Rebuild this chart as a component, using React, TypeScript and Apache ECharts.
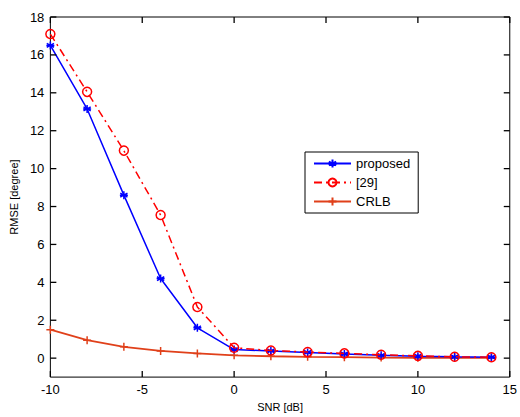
import React, { useEffect, useRef } from "react";
import * as echarts from "echarts";

const snr = [-10, -8, -6, -4, -2, 0, 2, 4, 6, 8, 10, 12, 14];
const proposed = [16.5, 13.15, 8.6, 4.2, 1.6, 0.45, 0.38, 0.3, 0.22, 0.15, 0.1, 0.07, 0.05];
const ref29 = [17.1, 14.05, 10.95, 7.55, 2.7, 0.55, 0.4, 0.32, 0.25, 0.18, 0.12, 0.07, 0.05];
const crlb = [1.5, 0.95, 0.6, 0.38, 0.25, 0.15, 0.1, 0.07, 0.05, 0.03, 0.02, 0.015, 0.01];
const xTicks = [-10, -5, 0, 5, 10, 15];
const yTicks = [0, 2, 4, 6, 8, 10, 12, 14, 16, 18];

const FONT = "Liberation Sans";
const asterisk = "path://M0,-5L0,5M-4.5,-2.5L4.5,2.5M-4.5,2.5L4.5,-2.5M-5,0L5,0";
const plus = "path://M0,-5L0,5M-5,0L5,0";
const X_MIN = -10;
const X_MAX = 15;
const Y_MIN = -1;
const Y_MAX = 18;

export default function App() {
  const ref = useRef<HTMLDivElement>(null);
  useEffect(() => {
    const chart = echarts.init(ref.current!, null, { renderer: "svg" });
    const pair = (v: number[]) => v.map((y, i) => [snr[i], y]);
    chart.setOption({
      animation: false,
      grid: { left: 44, right: 8, top: 17, bottom: 31, show: true, borderColor: "#000", borderWidth: 1, backgroundColor: "#fff" },
      xAxis: {
        type: "value",
        min: X_MIN,
        max: X_MAX,
        interval: 5,
        splitLine: { show: false },
        axisLine: { show: false, onZero: false },
        axisTick: { show: false },
        name: "SNR [dB]",
        nameLocation: "middle",
        nameGap: 23,
        nameTextStyle: { color: "#000", fontSize: 11, fontFamily: FONT },
        axisLabel: { color: "#000", fontSize: 13, fontFamily: FONT, margin: 6 },
      },
      yAxis: {
        type: "value",
        min: Y_MIN,
        max: Y_MAX,
        splitLine: { show: false },
        axisLine: { show: false, onZero: false },
        axisTick: { show: false },
        name: "RMSE [degree]",
        nameLocation: "middle",
        nameGap: 28,
        nameTextStyle: { color: "#000", fontSize: 11, fontFamily: FONT },
        axisLabel: { color: "#000", fontSize: 13, fontFamily: FONT, margin: 6, customValues: yTicks },
      },
      legend: {
        orient: "vertical",
        left: 305,
        top: 152,
        width: 112,
        borderColor: "#000",
        borderWidth: 1,
        backgroundColor: "#fff",
        padding: [5, 8, 5, 8],
        itemWidth: 37,
        itemHeight: 10,
        itemGap: 6,
        textStyle: { color: "#000", fontSize: 13, fontFamily: FONT },
        data: ["proposed", "[29]", "CRLB"],
      },
      series: [
        {
          name: "CRLB",
          type: "line",
          data: pair(crlb),
          symbol: plus,
          symbolSize: 8,
          lineStyle: { color: "#e0401a", width: 1.8 },
          itemStyle: { color: "none", borderColor: "#e0401a", borderWidth: 1.5 },
          z: 2,
        },
        {
          name: "proposed",
          type: "line",
          data: pair(proposed),
          symbol: asterisk,
          symbolSize: 8,
          lineStyle: { color: "#0000ff", width: 1.5 },
          itemStyle: { color: "none", borderColor: "#0000ff", borderWidth: 1.5 },
          z: 3,
        },
        {
          name: "[29]",
          type: "line",
          data: pair(ref29),
          symbol: "circle",
          symbolSize: 9,
          lineStyle: { color: "#ff0000", width: 1.5, type: [8, 4, 2, 4] },
          itemStyle: { color: "rgba(255,255,255,0)", borderColor: "#ff0000", borderWidth: 1.5 },
          z: 4,
        },
      ],
    });
    // inward tick marks on all four sides, positioned through the axes' own scales
    const L = chart.convertToPixel({ xAxisIndex: 0 }, X_MIN) as number;
    const R = chart.convertToPixel({ xAxisIndex: 0 }, X_MAX) as number;
    const B = chart.convertToPixel({ yAxisIndex: 0 }, Y_MIN) as number;
    const T = chart.convertToPixel({ yAxisIndex: 0 }, Y_MAX) as number;
    const len = 6;
    const tickStyle = { stroke: "#000", lineWidth: 1.3 };
    const ticks: any[] = [];
    xTicks.forEach((v) => {
      const px = chart.convertToPixel({ xAxisIndex: 0 }, v) as number;
      ticks.push({ type: "line", silent: true, z: 50, shape: { x1: px, y1: B, x2: px, y2: B - len }, style: tickStyle });
      ticks.push({ type: "line", silent: true, z: 50, shape: { x1: px, y1: T, x2: px, y2: T + len }, style: tickStyle });
    });
    yTicks.forEach((v) => {
      const py = chart.convertToPixel({ yAxisIndex: 0 }, v) as number;
      ticks.push({ type: "line", silent: true, z: 50, shape: { x1: L, y1: py, x2: L + len, y2: py }, style: tickStyle });
      ticks.push({ type: "line", silent: true, z: 50, shape: { x1: R, y1: py, x2: R - len, y2: py }, style: tickStyle });
    });
    chart.setOption({ graphic: ticks });
    return () => chart.dispose();
  }, []);
  return <div ref={ref} style={{ width: 520, height: 417, position: "absolute", left: 0, top: 0, background: "#fff" }} />;
}
